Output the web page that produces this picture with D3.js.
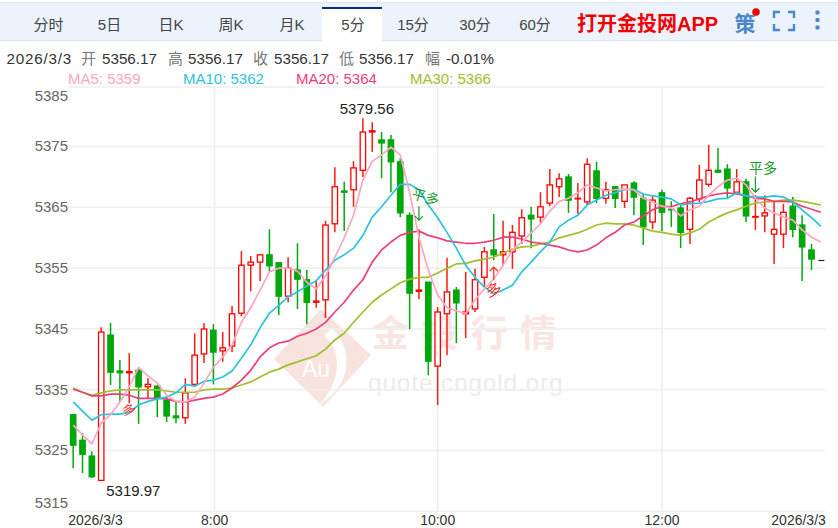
<!DOCTYPE html>
<html><head><meta charset="utf-8">
<script src="https://cdn.jsdelivr.net/npm/d3@7/dist/d3.min.js"></script>
<style>
html,body{margin:0;padding:0;background:#fff;overflow:hidden}
text{font-family:"Liberation Sans","Noto Sans CJK SC",sans-serif}
</style></head><body><svg id="c" width="838" height="528"></svg>
<script>
const tabs=["分时","5日","日K","周K","月K","5分","15分","30分","60分"];
const activeTab="5分";
const opens=[5330.8,5326.6,5324.0,5320.0,5343.9,5338.0,5337.7,5338.1,5335.4,5335.5,5333.2,5330.6,5330.3,5335.8,5340.8,5344.7,5341.3,5342.1,5347.5,5355.4,5355.9,5357.1,5355.8,5350.3,5354.6,5353.0,5349.3,5349.7,5362.2,5367.6,5367.8,5371.0,5377.3,5376.0,5376.0,5372.4,5363.6,5351.1,5352.6,5338.8,5347.4,5351.3,5347.4,5348.2,5353.4,5357.9,5357.1,5357.6,5360.2,5363.6,5363.3,5365.6,5368.3,5369.9,5366.3,5365.8,5370.9,5366.4,5368.3,5365.9,5368.9,5366.4,5362.5,5367.3,5364.6,5364.8,5361.3,5366.3,5368.7,5371.0,5371.2,5367.4,5369.1,5363.3,5363.5,5360.5,5360.5,5365.1,5362.0,5357.9,5356.17];
const closes=[5325.8,5324.3,5320.6,5344.4,5337.8,5337.7,5337.9,5335.4,5335.8,5333.5,5330.6,5330.3,5334.4,5340.6,5344.9,5341.1,5341.8,5347.4,5355.4,5355.9,5357.1,5355.3,5350.3,5354.9,5353.1,5349.3,5349.5,5362.0,5368.3,5367.4,5371.4,5377.3,5377.5,5375.5,5372.4,5364.0,5350.8,5351.3,5339.6,5347.7,5351.0,5349.2,5347.7,5353.0,5357.6,5357.1,5357.6,5360.8,5363.2,5363.0,5365.0,5368.6,5369.6,5366.1,5366.4,5372.0,5366.4,5367.8,5366.4,5368.6,5366.6,5361.7,5366.1,5364.1,5364.5,5360.8,5366.4,5369.4,5371.0,5370.7,5368.1,5369.1,5363.5,5363.4,5364.0,5361.3,5364.1,5361.3,5358.4,5356.4,5356.17];
const highs=[5330.8,5327.8,5324.8,5345.2,5345.9,5339.8,5340.9,5338.5,5336.8,5335.7,5334.0,5332.9,5336.8,5344.2,5345.9,5345.7,5344.4,5348.7,5357.7,5356.9,5357.2,5361.3,5355.8,5356.7,5359.0,5354.6,5353.0,5362.7,5371.5,5369.1,5372.5,5379.56,5378.9,5377.3,5376.8,5373.0,5364.1,5361.3,5352.6,5348.5,5356.6,5351.8,5354.3,5354.8,5358.4,5363.8,5362.7,5362.0,5364.6,5365.0,5367.4,5371.2,5370.5,5370.4,5368.9,5373.0,5372.4,5369.1,5368.4,5368.6,5369.2,5367.1,5366.9,5367.8,5365.9,5365.3,5366.6,5371.9,5375.2,5374.7,5372.0,5371.2,5369.6,5366.9,5366.9,5365.8,5365.5,5366.6,5363.6,5358.9,5356.17];
const lows=[5322.0,5321.2,5320.4,5319.97,5335.7,5332.9,5332.7,5329.3,5333.5,5330.4,5329.6,5329.4,5329.3,5335.7,5339.3,5335.8,5339.5,5341.1,5347.0,5351.1,5352.8,5354.3,5347.2,5349.3,5348.2,5345.7,5348.4,5346.7,5360.8,5361.0,5365.0,5369.9,5374.0,5369.7,5367.4,5363.3,5344.9,5349.8,5337.3,5332.4,5340.6,5342.6,5343.4,5347.7,5351.8,5356.2,5355.3,5354.8,5358.9,5358.2,5362.3,5365.1,5366.6,5364.0,5363.8,5365.3,5365.6,5365.5,5364.8,5364.8,5363.6,5358.7,5361.3,5361.0,5361.7,5358.2,5358.9,5365.8,5368.3,5370.5,5366.4,5367.4,5362.5,5361.2,5360.8,5355.6,5358.2,5360.0,5352.8,5354.6,5356.17];
const ma5=[5329.1,5327.5,5326.0,5329.4,5330.8,5332.9,5335.4,5338.6,5337.2,5336.0,5334.0,5333.0,5332.9,5333.7,5336.0,5338.6,5340.3,5342.3,5346.0,5348.4,5351.3,5354.3,5354.9,5354.9,5354.4,5352.6,5351.5,5353.6,5356.7,5359.9,5363.6,5369.4,5372.5,5373.5,5374.8,5373.5,5367.3,5360.0,5354.6,5350.5,5348.4,5347.9,5347.4,5349.7,5351.5,5353.1,5355.4,5357.9,5359.2,5360.7,5362.2,5364.3,5365.9,5366.4,5367.3,5368.6,5368.1,5367.6,5367.8,5367.9,5367.8,5366.4,5365.8,5365.1,5364.8,5363.5,5364.5,5365.1,5366.9,5368.3,5369.4,5369.7,5368.6,5366.4,5364.8,5364.0,5363.3,5362.8,5361.2,5360.0,5359.2];
const ma10=[5332.9,5331.4,5329.9,5330.8,5330.9,5330.9,5331.2,5332.4,5333.0,5333.4,5333.7,5334.4,5335.8,5335.5,5336.3,5336.5,5337.0,5338.0,5340.1,5342.3,5345.1,5347.5,5348.8,5350.2,5351.0,5352.0,5352.8,5354.6,5356.2,5357.1,5358.2,5360.3,5363.3,5365.0,5366.9,5368.7,5368.7,5367.8,5365.3,5363.2,5360.8,5358.2,5355.4,5353.4,5351.8,5350.7,5351.3,5352.1,5354.3,5355.9,5357.6,5359.2,5361.7,5362.8,5363.6,5365.3,5366.1,5366.9,5367.3,5367.8,5367.9,5367.1,5366.8,5366.6,5366.3,5365.3,5365.5,5365.6,5365.9,5366.3,5366.4,5367.3,5366.8,5366.6,5366.6,5366.8,5366.6,5365.8,5364.5,5363.2,5361.8];
const ma20=[5335.0,5334.5,5333.9,5333.9,5334.2,5334.2,5334.0,5333.5,5333.5,5333.5,5333.4,5333.0,5332.9,5333.2,5333.5,5333.7,5334.2,5335.2,5336.5,5338.1,5340.3,5341.8,5342.6,5342.9,5343.7,5344.2,5344.9,5346.0,5347.7,5349.3,5351.3,5353.0,5355.9,5357.9,5359.2,5360.3,5360.8,5361.0,5360.3,5359.9,5359.4,5359.2,5359.0,5359.0,5359.2,5359.5,5360.0,5360.0,5359.7,5359.2,5359.0,5358.7,5358.4,5357.9,5357.6,5357.9,5358.7,5359.9,5360.8,5362.0,5362.5,5363.5,5364.5,5365.1,5365.0,5365.5,5365.8,5366.3,5366.8,5367.1,5367.3,5367.1,5366.8,5366.4,5366.3,5365.9,5365.9,5365.8,5365.1,5364.6,5364.1];
const ma30=[5335.2,5334.5,5334.0,5334.4,5334.7,5334.9,5334.9,5334.9,5334.9,5334.9,5334.7,5334.5,5334.5,5334.5,5334.9,5335.0,5335.0,5335.2,5335.7,5336.2,5337.0,5337.8,5338.3,5339.0,5339.5,5340.0,5340.5,5341.6,5343.1,5344.2,5346.0,5347.7,5349.3,5350.5,5351.5,5352.5,5353.1,5353.4,5353.4,5354.1,5354.9,5355.6,5355.7,5356.1,5356.4,5356.7,5357.4,5358.0,5358.4,5358.5,5358.9,5359.2,5359.9,5360.3,5360.7,5361.3,5362.0,5362.3,5362.2,5362.2,5362.0,5361.5,5361.0,5360.8,5360.5,5360.3,5360.7,5361.3,5362.5,5363.3,5364.0,5364.5,5365.1,5365.6,5365.8,5365.9,5366.1,5366.1,5365.9,5365.6,5365.3];
const maNames=["MA5","MA10","MA20","MA30"];
const maLatest=[5359,5362,5364,5366];
const maColors=["#ffa6c2","#2cc3de","#ee3e7a","#a0c02c"];
const yTicks=[5315,5325,5335,5345,5355,5365,5375,5385];
const xTickIdx=[0,15,39,63,80];
const xTickLabels=["2026/3/3","8:00","10:00","12:00","2026/3/3"];
const infoLabels=["开","高","收","低","幅"];
const infoValues=["5356.17","5356.17","5356.17","5356.17","-0.01%"];
const infoDate="2026/3/3";
const extremes=[{i:31,v:5379.56,t:"5379.56"},{i:3,v:5319.97,t:"5319.97"}];

const svg=d3.select("#c");
const W=838;
// header band
svg.append("rect").attr("x",0).attr("y",2).attr("width",W).attr("height",39).attr("fill","#ecf3fd");
svg.append("line").attr("x1",0).attr("x2",W).attr("y1",2.5).attr("y2",2.5).attr("stroke","#dfe7f3");
svg.append("line").attr("x1",0).attr("x2",W).attr("y1",40.5).attr("y2",40.5).attr("stroke","#d8e2f0");
const tabCx=[48.5,109.5,171,231,292,353,413,475,535];
svg.append("rect").attr("x",322).attr("y",7).attr("width",60).attr("height",34).attr("fill","#fff");
svg.append("rect").attr("x",322).attr("y",7).attr("width",60).attr("height",2).attr("fill","#0b2f80");
svg.selectAll(".tab").data(tabs).join("text").attr("x",(d,i)=>tabCx[i]).attr("y",30)
  .attr("text-anchor","middle").attr("font-size",15).attr("fill","#444").text(d=>d);
svg.append("text").attr("x",577).attr("y",31).attr("font-size",20).attr("font-weight","bold").attr("fill","#f00000").text("打开金投网APP");
svg.append("text").attr("x",745).attr("y",31).attr("text-anchor","middle").attr("font-size",21).attr("fill","#4c88c9").attr("font-weight","bold").text("策");
svg.append("circle").attr("cx",756).attr("cy",12).attr("r",3.8).attr("fill","#f40000");
// fullscreen icon
[[774,18,1,1],[794,18,-1,1],[774,24,1,-1],[794,24,-1,-1]].forEach(p=>{
  svg.append("path").attr("fill","none").attr("stroke","#4c88c9").attr("stroke-width",2.4)
   .attr("d",`M${p[0]+p[2]*6},${p[1]-p[3]*6}H${p[0]}V${p[1]}`);
});
[12.5,20,27.5].forEach(y=>svg.append("rect").attr("x",815.5).attr("y",y-2).attr("width",4).attr("height",4).attr("rx",1).attr("fill","#4c88c9"));

// info row
const infoLabelX=[81,168,253,339,425];
const infoValueX=[102,188,274,359,446];
svg.append("text").attr("x",6.5).attr("y",64).attr("font-size",15.2).attr("letter-spacing",0.8).attr("fill","#333").text(infoDate);
infoLabels.forEach((l,i)=>{
  svg.append("text").attr("x",infoLabelX[i]).attr("y",64).attr("font-size",15).attr("fill","#777").text(l);
  svg.append("text").attr("x",infoValueX[i]).attr("y",64).attr("font-size",15.2).attr("fill","#333").text(infoValues[i]);
});
// MA legend
const legX=[68,183,296,410];
maNames.forEach((n,i)=>svg.append("text").attr("x",legX[i]).attr("y",84).attr("font-size",15).attr("fill",maColors[i]).text(n+": "+maLatest[i]));

// scales
const x=d3.scaleBand().domain(d3.range(opens.length)).range([68.5,825.5]);
const y=d3.scaleLinear().domain([5325,5375]).range([450,146]);
const cx=i=>x(i)+x.bandwidth()/2;
const plotTop=87,plotBot=510;

// watermark
const wm=svg.append("g");
wm.append("path").attr("fill","#f9e3df").attr("d",d3.line()([[274,359],[321,309],[371,355],[323,407]])+"Z");
wm.append("path").attr("fill","#fff").attr("d","M332,328C354,350 352,385 320,404C342,380 342,352 324,335Z");
wm.append("text").attr("x",316).attr("y",377).attr("text-anchor","middle").attr("font-size",23).attr("fill","#fff").text("Au");
wm.append("text").attr("x",372).attr("y",347).attr("font-size",37).attr("font-weight","bold").attr("letter-spacing",12.3).attr("fill","#f9e6e2").text("金投行情");
wm.append("text").attr("x",368).attr("y",391).attr("font-size",24.5).attr("letter-spacing",0.8).attr("fill","#ececec").text("quote.cngold.org");

// axes
const yAxis=d3.axisLeft(y).tickValues(yTicks.slice(0,-1)).tickSize(-(825-68)).tickPadding(0).tickFormat(d3.format("d"));
const gy=svg.append("g").attr("transform","translate(68,0)").call(yAxis);
gy.select(".domain").remove();
gy.selectAll("line").attr("stroke","#efefef").attr("stroke-width",1.6);
gy.selectAll("text").attr("font-size",15).attr("fill","#666");
gy.selectAll(".tick").filter(d=>d===5315).select("text").attr("dy","-0.2em");
svg.append("line").attr("x1",68).attr("x2",825).attr("y1",plotTop).attr("y2",plotTop).attr("stroke","#efefef").attr("stroke-width",1.6);
svg.append("text").attr("x",68).attr("y",101).attr("text-anchor","end").attr("font-size",15).attr("fill","#666").text(yTicks[7]);

const xAxis=d3.axisBottom(x).tickValues(xTickIdx).tickFormat((d,i)=>xTickLabels[i]).tickSize(-(plotBot-plotTop)).tickPadding(4);
const gx=svg.append("g").attr("transform",`translate(0,${plotBot})`).call(xAxis);
gx.select(".domain").remove();
gx.selectAll("line").attr("stroke","#efefef").attr("stroke-width",1.6);
gx.selectAll("text").attr("font-size",14).attr("fill","#333").attr("y",5).attr("dy","0.71em");
gx.selectAll(".tick").filter(d=>d===0||d===80).select("line").remove();
gx.selectAll(".tick").filter(d=>d===0).select("text").attr("text-anchor","start").attr("dx",-5);
gx.selectAll(".tick").filter(d=>d===80).select("text").attr("text-anchor","end").attr("dx",5);
gx.selectAll(".tick").filter(d=>d===15).attr("transform",`translate(${cx(15)+1.3},0)`);

// candles
const idx=d3.range(opens.length);
const isUp=i=>closes[i]>=opens[i];
const RED="#f81c10",GREEN="#00a80c";
const bw=5.4;
svg.append("g").selectAll("line").data(idx.slice(0,-1)).join("line")
  .attr("x1",cx).attr("x2",cx).attr("y1",i=>y(highs[i])).attr("y2",i=>y(lows[i]))
  .attr("stroke",i=>isUp(i)?RED:GREEN).attr("stroke-width",1.5);
svg.append("g").selectAll("rect").data(idx.slice(0,-1)).join("rect")
  .attr("x",i=>cx(i)-bw/2).attr("width",bw)
  .attr("y",i=>y(Math.max(opens[i],closes[i])))
  .attr("height",i=>Math.max(0.6,Math.abs(y(opens[i])-y(closes[i]))))
  .attr("fill",i=>isUp(i)?"#fff":GREEN).attr("stroke",i=>isUp(i)?"#ff0000":GREEN).attr("stroke-width",1.3);
const last=idx.length-1;
svg.append("line").attr("x1",cx(last)-2.5).attr("x2",cx(last)+3.5).attr("y1",y(closes[last])).attr("y2",y(closes[last])).attr("stroke","#222").attr("stroke-width",1.2);

// MA lines
const line=d3.line().x((d,i)=>cx(i)).y(d=>y(d));
[ma30,ma20,ma10,ma5].forEach((s,k)=>{
  svg.append("path").attr("d",line(s)).attr("fill","none").attr("stroke",maColors[3-k]).attr("stroke-width",1.7).attr("stroke-linejoin","round");
});

// extremes
svg.selectAll(".ext").data(extremes).join("text").attr("font-size",15).attr("fill","#222")
  .attr("x",d=>cx(d.i)+(d.i===31?4:5)).attr("y",d=>y(d.v)+(d.i===31?-4:15)).attr("text-anchor",d=>d.i===31?"middle":"start").text(d=>d.t);

// trade markers
const marks=[
 {i:6,v:5331.6,t:"多",c:"#ff2a1c",rot:-15,sy:0.75,size:15},
 {i:45,v:5351.3,t:"多",c:"#ff2a1c",rot:-20,sy:0.9,size:16},
 {i:37.7,v:5366.6,t:"平多",c:"#1a9a2a",rot:16,sy:1,size:14},
 {i:73.8,v:5371.4,t:"平多",c:"#1a9a2a",rot:0,sy:1,size:14}
];
const px=d3.scaleLinear().domain([0,last]).range([cx(0),cx(last)]);
marks.forEach(m=>{
  svg.append("text").attr("transform",`translate(${px(m.i)},${y(m.v)}) rotate(${m.rot}) scale(1,${m.sy})`)
   .attr("text-anchor","middle").attr("dy","0.35em").attr("font-size",m.size).attr("fill",m.c).text(m.t);
});
// arrows
const arrows=[{i:45,v0:5353.0,v1:5355.1,c:"#ff2a1c",up:1},{i:37,v0:5365.1,v1:5362.8,c:"#1a9a2a",up:0},{i:73,v0:5370.0,v1:5367.4,c:"#1a9a2a",up:0}];
arrows.forEach(a=>{
  const ax=px(a.i),y0=y(a.v0),y1=y(a.v1),s=a.up?1:-1;
  svg.append("path").attr("fill","none").attr("stroke",a.c).attr("stroke-width",1.2)
   .attr("d",`M${ax},${y0}L${ax},${y1}M${ax-4},${y1+s*4}L${ax},${y1}L${ax+4},${y1+s*4}`);
});
</script></body></html>
